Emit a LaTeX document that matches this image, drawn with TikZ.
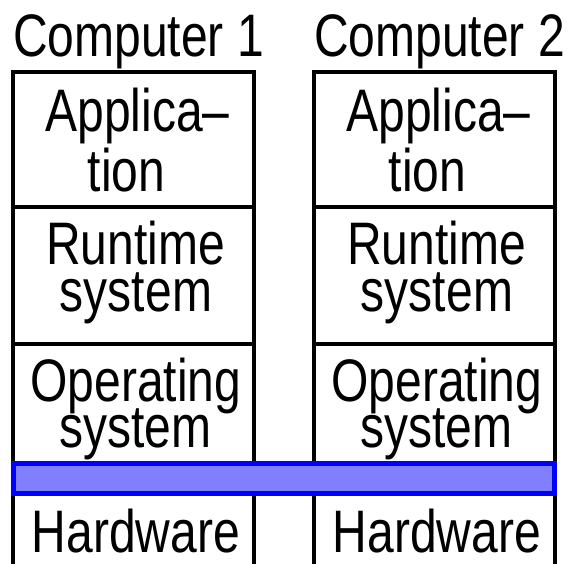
\documentclass[tikz,border=0pt]{standalone}
\usepackage{fontspec}
\setmainfont[FakeStretch=0.8]{Liberation Sans}
\definecolor{barfill}{RGB}{128,128,255}
\definecolor{barline}{RGB}{0,0,255}
\begin{document}
\begin{tikzpicture}[x=1pt,y=-1pt,
  box/.style={draw=black,line width=4pt,inner sep=0pt,minimum width=241pt},
  txt/.style={anchor=base,inner sep=0pt,font=\fontsize{60}{60}\selectfont},
  bar/.style={draw=barline,fill=barfill,line width=5pt,inner sep=0pt}]
\useasboundingbox (0,0) rectangle (574,564);
\foreach \c/\dx in {1/0,2/301}{
  \node[box,minimum height=135pt] (app\c) at (133.5+\dx,139.5) {};
  \node[box,minimum height=137pt] (rt\c) at (133.5+\dx,275.5) {};
  \node[box,minimum height=134pt] (os\c) at (133.5+\dx,411) {};
  \node[box,minimum height=122pt] (hw\c) at (133.5+\dx,539) {};
  \node[txt] (comp\c) at (138.5+\dx,57) {Computer \c};
  \node[txt] (appa\c) at (137.5+\dx,132) {Applica–};
  \node[txt] (appb\c) at (126.5+\dx,192) {tion};
  \node[txt] (rta\c) at (135.5+\dx,265) {Runtime};
  \node[txt] (rtb\c) at (136+\dx,312) {system};
  \node[txt] (osa\c) at (136+\dx,402) {Operating};
  \node[txt] (osb\c) at (135.5+\dx,448) {system};
  \node[txt] (hwa\c) at (136+\dx,553) {Hardware};
}
\node[bar,minimum width=541pt,minimum height=30pt] (net) at (284,478.5) {};
\end{tikzpicture}
\end{document}
